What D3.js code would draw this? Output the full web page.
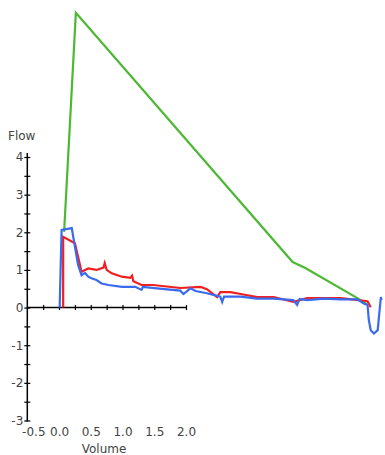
<!DOCTYPE html>
<html>
<head>
<meta charset="utf-8">
<script src="https://cdn.jsdelivr.net/npm/d3@7"></script>
<style>
  body { margin: 0; background: #fff; }
  svg text { font-family: "DejaVu Sans", sans-serif; fill: #444; }
</style>
</head>
<body>
<div id="chart"></div>
<script>
var width = 385, height = 455;

// flow-volume curves, [volume, flow]
var greenCurve = [[0.08, 2.01], [0.265, 7.83], [3.68, 1.21], [3.88, 1.05], [4.70, 0.25], [4.85, 0.09]];

var redCurve = [[0.065, 0], [0.065, 1.88], [0.25, 1.71], [0.355, 0.95], [0.41, 1.00], [0.46, 1.04],
  [0.59, 1.00], [0.70, 1.06], [0.72, 1.18], [0.75, 1.00], [0.83, 0.91], [0.99, 0.82], [1.12, 0.79],
  [1.15, 0.85], [1.17, 0.70], [1.30, 0.60], [1.48, 0.60], [1.91, 0.52], [2.23, 0.55], [2.33, 0.49],
  [2.49, 0.28], [2.54, 0.41], [2.70, 0.41], [2.86, 0.36], [3.12, 0.28], [3.38, 0.28], [3.69, 0.15],
  [3.91, 0.25], [4.44, 0.25], [4.86, 0.17], [4.91, 0.01]];

var blueCurve = [[0.01, 0], [0.04, 2.06], [0.20, 2.11], [0.30, 1.13], [0.355, 0.86], [0.41, 0.92],
  [0.46, 0.82], [0.51, 0.78], [0.59, 0.73], [0.67, 0.64], [0.78, 0.60], [0.99, 0.55], [1.20, 0.55],
  [1.30, 0.47], [1.32, 0.55], [1.54, 0.51], [1.91, 0.45], [1.96, 0.36], [2.07, 0.51], [2.15, 0.44],
  [2.33, 0.38], [2.54, 0.29], [2.57, 0.15], [2.60, 0.29], [2.86, 0.29], [3.12, 0.24], [3.38, 0.24],
  [3.69, 0.20], [3.75, 0.07], [3.79, 0.23], [3.91, 0.20], [4.17, 0.24], [4.44, 0.22], [4.70, 0.22],
  [4.80, 0.11], [4.86, 0.07], [4.88, -0.33], [4.91, -0.60], [4.96, -0.69], [5.02, -0.60],
  [5.04, -0.24], [5.06, 0.11], [5.07, 0.28], [5.08, 0.20]];

var xLabelTicks = [-0.5, 0, 0.5, 1.0, 1.5, 2.0];
var xMinorTicks = d3.range(-0.25, 2.01, 0.25);
var yLabelTicks = [-3, -2, -1, 0, 1, 2, 3, 4];
var yMinorTicks = d3.range(-3, 4.01, 0.5);

var svg = d3.select("#chart")
  .append("svg")
  .attr("width", width)
  .attr("height", height);

var xScale = d3.scaleLinear()
  .domain([-0.5, 2.0])
  .range([27.3, 186]);

var yScale = d3.scaleLinear()
  .domain([-3, 4])
  .range([420.5, 157]);

var fmt = function(d) { return String(d).replace("\u2212", "-"); };

// Y axis, ticks crossing the line
var yAxis = d3.axisLeft(yScale)
  .tickValues(yMinorTicks)
  .tickSize(3)
  .tickFormat(d => yLabelTicks.includes(d) ? fmt(d) : "");

var yG = svg.append("g")
  .attr("transform", `translate(${xScale(-0.5)},0)`)
  .call(yAxis);
yG.select(".domain").remove();
yG.append("line")
  .attr("y1", yScale(4) - 4).attr("y2", yScale(-3) + 1)
  .attr("stroke", "#000").attr("stroke-width", 1.5);
yG.selectAll(".tick line").attr("x1", 3).attr("x2", -3).attr("stroke", "#000").attr("stroke-width", 1.2);
yG.selectAll(".tick text").attr("x", -4).attr("font-size", "12px").attr("fill", "#444");

// X axis line at flow 0
var xAxis = d3.axisBottom(xScale)
  .tickValues(xMinorTicks)
  .tickSize(3)
  .tickFormat("");

var xG = svg.append("g")
  .attr("transform", `translate(0,${yScale(0)})`)
  .call(xAxis);
xG.select(".domain").remove();
xG.append("line")
  .attr("x1", xScale(-0.5)).attr("x2", xScale(2.0))
  .attr("stroke", "#000").attr("stroke-width", 1.5);
xG.selectAll(".tick line").attr("y1", -2.5).attr("y2", 2.5).attr("stroke", "#000").attr("stroke-width", 1.2);

// X labels at the bottom
var xLab = d3.axisBottom(xScale)
  .tickValues(xLabelTicks)
  .tickSize(0)
  .tickPadding(0)
  .tickFormat(d => fmt(d3.format(".1f")(d)));

var xlG = svg.append("g")
  .attr("transform", `translate(0,427)`)
  .call(xLab);
xlG.select(".domain").remove();
xlG.selectAll("text")
  .attr("font-size", "12px")
  .attr("fill", "#444")
  .attr("dx", d => d < 0 ? 6 : 0);

svg.append("text")
  .attr("x", 8).attr("y", 140)
  .attr("font-size", "12px")
  .text("Flow");

svg.append("text")
  .attr("x", 104).attr("y", 453)
  .attr("text-anchor", "middle")
  .attr("font-size", "12px")
  .text("Volume");

var line = d3.line()
  .x(d => xScale(d[0]))
  .y(d => yScale(d[1]));

svg.append("path")
  .datum(greenCurve)
  .attr("d", line)
  .attr("fill", "none")
  .attr("stroke", "#4cb833")
  .attr("stroke-width", 2.2);

svg.append("path")
  .datum(redCurve)
  .attr("d", line)
  .attr("fill", "none")
  .attr("stroke", "#f02020")
  .attr("stroke-width", 2.2);

svg.append("path")
  .datum(blueCurve)
  .attr("d", line)
  .attr("fill", "none")
  .attr("stroke", "#3a6af0")
  .attr("stroke-width", 2.2);
</script>
</body>
</html>
